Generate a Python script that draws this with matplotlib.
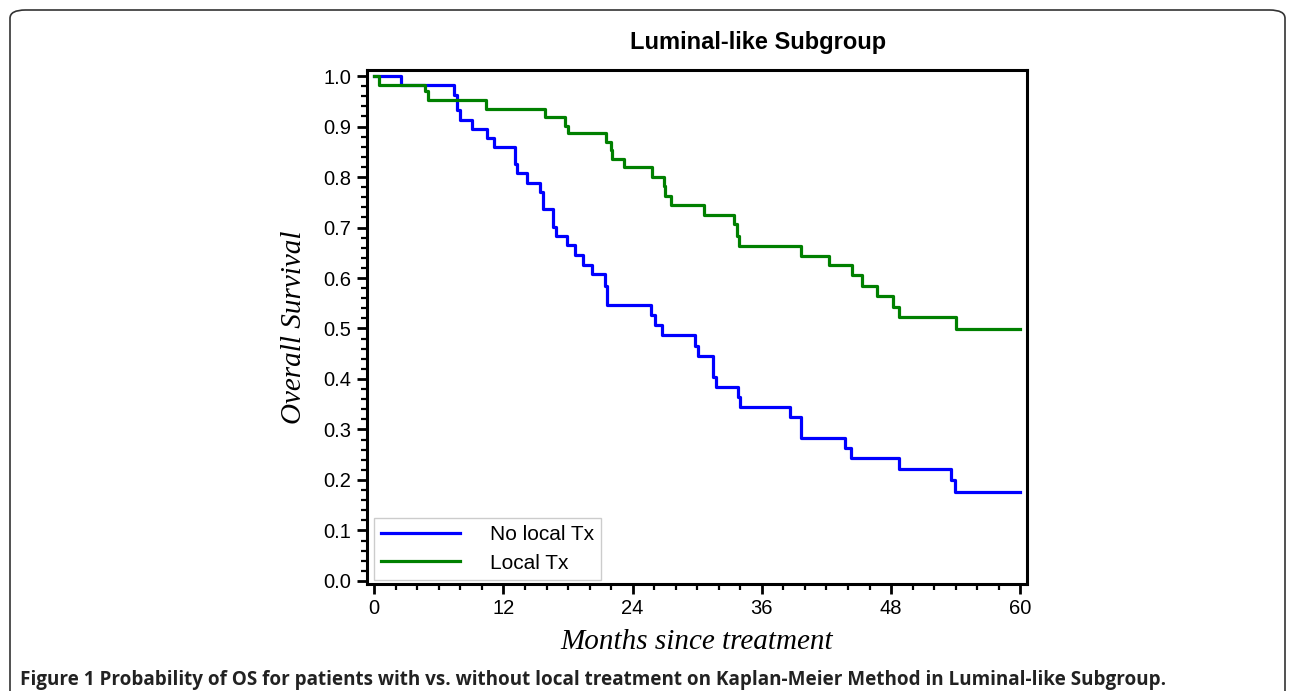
import matplotlib
matplotlib.use("Agg")
import matplotlib.pyplot as plt
from matplotlib.patches import FancyBboxPatch
from matplotlib.ticker import MultipleLocator

# Kaplan-Meier step data (months, survival)
no_local_t = [0, 2.5, 7.4, 7.7, 8.0, 9.1, 10.5, 11.1, 13.1, 13.3, 14.2, 15.4, 15.7,
              16.6, 16.9, 17.9, 18.6, 19.4, 20.2, 21.4, 21.6, 25.7, 26.1, 26.7,
              29.8, 30.1, 31.5, 31.7, 33.8, 34.0, 38.6, 39.6, 43.7, 44.3, 48.7,
              53.6, 53.9, 60]
no_local_s = [1.0, 0.982, 0.963, 0.932, 0.912, 0.895, 0.878, 0.860, 0.825, 0.807, 0.789,
              0.771, 0.736, 0.702, 0.684, 0.665, 0.646, 0.626, 0.607, 0.585, 0.547,
              0.527, 0.507, 0.487, 0.466, 0.446, 0.404, 0.385, 0.364, 0.345, 0.325,
              0.284, 0.264, 0.243, 0.221, 0.200, 0.177, 0.177]

local_t = [0, 0.4, 4.7, 5.0, 10.4, 15.9, 17.7, 18.0, 21.5, 22.0, 22.1, 23.2, 25.8,
           26.9, 27.0, 27.6, 30.6, 33.45, 33.7, 33.9, 39.6, 42.2, 44.4, 45.3, 46.7,
           48.2, 48.7, 54.0, 60]
local_s = [1.0, 0.982, 0.970, 0.952, 0.935, 0.919, 0.902, 0.888, 0.870, 0.853, 0.835,
           0.819, 0.801, 0.783, 0.763, 0.744, 0.725, 0.706, 0.684, 0.664, 0.644,
           0.625, 0.605, 0.585, 0.565, 0.543, 0.522, 0.499, 0.499]

x_ticks = [0, 12, 24, 36, 48, 60]
y_ticks = [i / 10 for i in range(11)]

plt.rcParams['font.family'] = ['Liberation Sans', 'DejaVu Sans']

fig = plt.figure(figsize=(12.9, 6.91), dpi=100)
ax = fig.add_axes([0.2843, 0.1549, 0.5116, 0.7438])

ax.step(no_local_t, no_local_s, where='post', color='#0000ff', lw=2.3, label='No local Tx')
ax.step(local_t, local_s, where='post', color='#008000', lw=2.3, label='Local Tx')

ax.set_xlim(-0.7, 60.6)
ax.set_ylim(-0.006, 1.012)
ax.set_xticks(x_ticks)
ax.set_yticks(y_ticks)
ax.set_yticklabels(['%.1f' % v for v in y_ticks])
ax.xaxis.set_minor_locator(MultipleLocator(2))
ax.yaxis.set_minor_locator(MultipleLocator(0.02))
ax.tick_params(which='major', direction='out', length=7, width=2, labelsize=14.5, pad=4)
ax.tick_params(which='minor', direction='out', length=4, width=1.6)
for sp in ax.spines.values():
    sp.set_linewidth(2.2)

# title sits right of the axes centre in the original
fig.text(758 / 1290, 1 - 42 / 691, 'Luminal-like Subgroup', fontsize=17, fontweight='bold',
         ha='center', va='center')
ax.set_xlabel('Months since treatment', family=['Liberation Serif'], style='italic',
              fontsize=21, labelpad=8)
ax.set_ylabel('Overall Survival', family=['Liberation Serif'], style='italic',
              fontsize=21, labelpad=12)

leg = ax.legend(loc='lower left', bbox_to_anchor=(0.011, 0.008), fontsize=15, frameon=True,
                fancybox=False, handlelength=3.8, handletextpad=1.4, borderaxespad=0,
                borderpad=0.35, labelspacing=0.45)
leg.get_frame().set_edgecolor('#c0c0c0')
leg.get_frame().set_linewidth(1)

fig.text(0.0155, 1 - 680 / 691, 'Figure 1 Probability of OS for patients with vs. without local treatment '
         'on Kaplan-Meier Method in Luminal-like Subgroup.', va='center',
         fontsize=13.6, fontweight='bold', family=['Open Sans', 'DejaVu Sans'], color='#222222')

border = FancyBboxPatch((10 / 1290, -0.05), 1275 / 1290, (691 - 10) / 691 + 0.05,
                        boxstyle='round,pad=0,rounding_size=0.012', transform=fig.transFigure,
                        fill=False, edgecolor='#333333', lw=1.2, clip_on=False)
fig.patches.append(border)

fig.savefig('out.png', dpi=100)
